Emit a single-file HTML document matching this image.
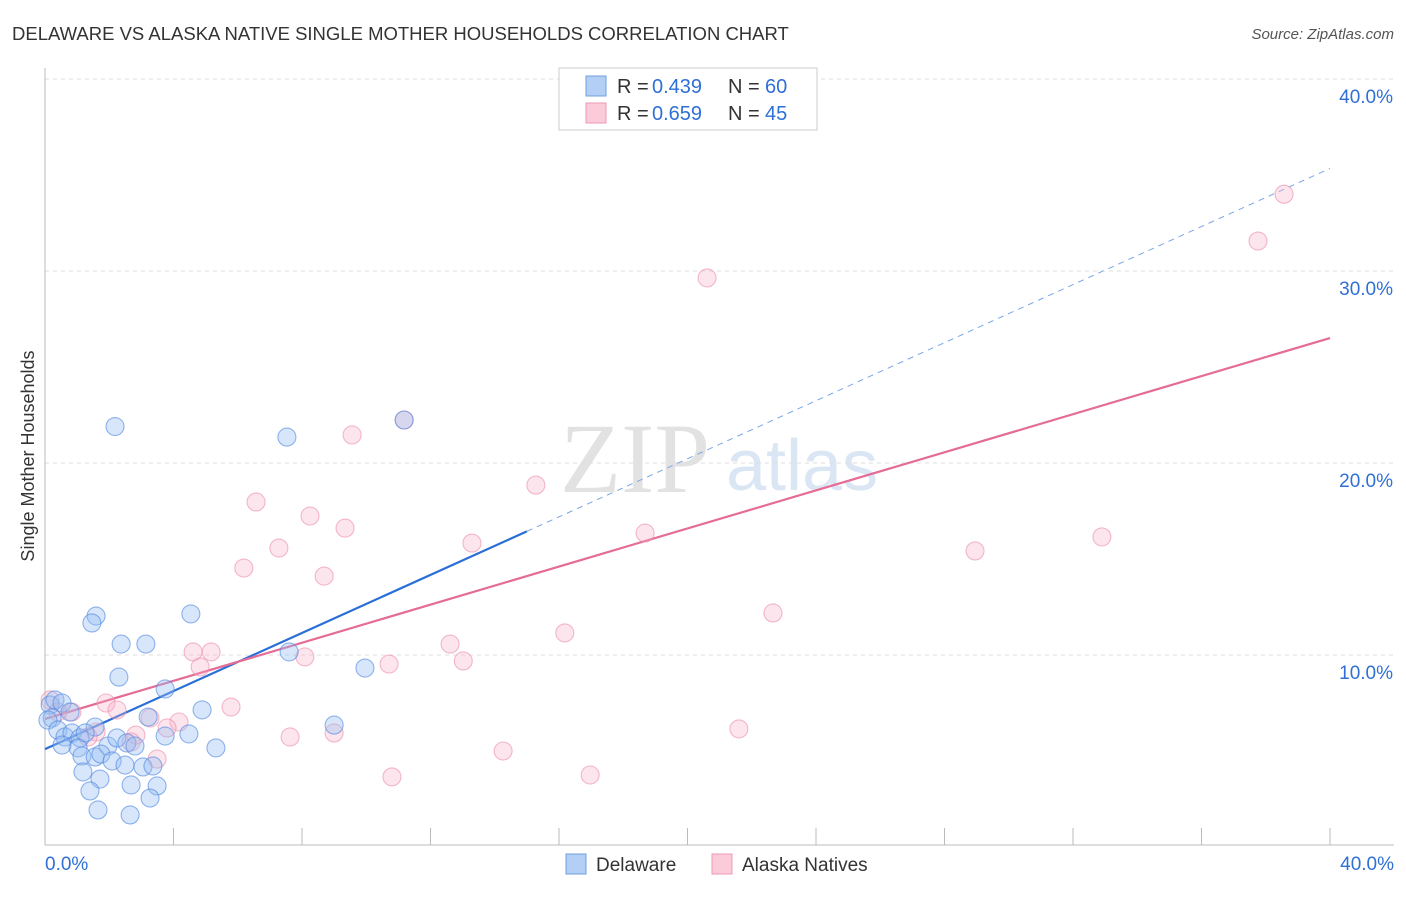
<!DOCTYPE html>
<html><head><meta charset="utf-8"><style>
body{margin:0;background:#fff;font-family:"Liberation Sans",sans-serif}
</style></head><body>
<svg id="c" width="1406" height="892" xmlns="http://www.w3.org/2000/svg">
<text x="12" y="40" font-size="18.5" fill="#333">DELAWARE VS ALASKA NATIVE SINGLE MOTHER HOUSEHOLDS CORRELATION CHART</text>
<text x="1394" y="39" font-size="15" fill="#555" font-style="italic" text-anchor="end">Source: ZipAtlas.com</text>
<text x="34" y="456" font-size="18" fill="#333" text-anchor="middle" transform="rotate(-90 34 456)">Single Mother Households</text>
<g>
<text x="635" y="492" font-size="100" fill="#e2e2e2" font-family="Liberation Serif,serif" text-anchor="middle">ZIP</text>
<text x="802" y="490" font-size="72" fill="#dbe6f5" text-anchor="middle">atlas</text>
</g>
<g id="grid"></g><g id="axes"></g><g id="lines"></g><g id="pts"></g>
<g>
<rect x="559" y="68" width="258" height="62" fill="#fff" stroke="#ccc"/>
<rect x="586" y="76" width="20" height="20" fill="#b3cff5" stroke="#6f9fe0"/>
<rect x="586" y="103" width="20" height="20" fill="#fbcbd9" stroke="#ec9ab4"/>
<text y="93" font-size="20" fill="#333"><tspan x="617">R =</tspan><tspan x="652" fill="#2f6fd6">0.439</tspan><tspan x="728">N =</tspan><tspan x="765" fill="#2f6fd6">60</tspan></text>
<text y="120" font-size="20" fill="#333"><tspan x="617">R =</tspan><tspan x="652" fill="#2f6fd6">0.659</tspan><tspan x="728">N =</tspan><tspan x="765" fill="#2f6fd6">45</tspan></text>
</g>
<g>
<rect x="566" y="854" width="20" height="20" fill="#b3cff5" stroke="#6f9fe0"/>
<text x="596" y="871" font-size="19" fill="#333">Delaware</text>
<rect x="712" y="854" width="20" height="20" fill="#fbcbd9" stroke="#ec9ab4"/>
<text x="742" y="871" font-size="19" fill="#333">Alaska Natives</text>
</g>
</svg>
<script>
const yTicks=[10,20,30,40];
const yTickLabels=["10.0%","20.0%","30.0%","40.0%"];
const xEndLabels=["0.0%","40.0%"];
const blueX=[2.18,7.53,11.18,1.59,1.46,4.54,2.37,3.14,7.6,9.96,2.3,3.74,4.89,3.21,9.0,3.74,4.48,5.32,0.16,0.31,0.53,0.22,0.09,0.78,0.40,0.62,0.84,1.09,1.56,1.25,1.96,1.03,1.15,1.56,1.74,2.24,2.55,2.8,2.09,2.49,3.05,3.36,1.18,1.71,2.68,3.49,1.4,3.27,1.65,2.65,0.53];
const blueY=[21.9,21.35,22.24,12.03,11.67,12.14,10.57,10.57,10.16,9.32,8.85,8.23,7.14,6.77,6.35,5.78,5.89,5.16,7.4,7.66,7.5,6.72,6.61,7.03,6.09,5.73,5.94,5.68,6.25,5.94,5.26,5.16,4.74,4.69,4.84,5.68,5.42,5.26,4.48,4.27,4.17,4.22,3.91,3.54,3.23,3.18,2.92,2.55,1.93,1.67,5.31];
const pinkX=[38.57,37.76,20.61,11.18,9.56,15.28,6.57,8.25,9.34,13.29,18.68,32.9,28.95,7.28,6.19,8.69,22.66,16.18,12.61,4.61,5.17,8.09,13.02,10.71,4.83,1.9,2.24,5.79,0.84,0.16,4.17,3.27,3.8,1.59,2.83,7.63,9.0,21.6,3.49,2.68,14.26,10.8,16.97,0.4,1.34];
const pinkY=[34.0,31.56,29.64,22.24,21.46,18.85,17.97,17.24,16.61,15.83,16.35,16.15,15.42,15.57,14.53,14.11,12.19,11.15,10.57,10.16,10.16,9.9,9.69,9.53,9.38,7.5,7.14,7.29,7.03,7.66,6.51,6.72,6.2,5.99,5.83,5.73,5.94,6.15,4.58,5.47,5.0,3.65,3.75,7.03,5.73];
const blueFit=[5.1,0.756];
const pinkFit=[6.67,0.496];
const X=v=>45+v*1285/40, Y=v=>847-v*19.2;
const NS="http://www.w3.org/2000/svg";
function mk(p,t,a){const e=document.createElementNS(NS,t);for(const k in a)e.setAttribute(k,a[k]);p.appendChild(e);return e;}
const g=document.getElementById('grid'),ax=document.getElementById('axes'),ln=document.getElementById('lines'),pt=document.getElementById('pts');
yTicks.forEach((t,i)=>{
 const l=mk(g,'line',{x1:45,x2:1394,y1:Y(t),y2:Y(t),stroke:'#ddd','stroke-dasharray':'4,4'});
 
 
 const tx=mk(g,'text',{x:1393,y:Y(t)+24,'font-size':19,fill:'#2f6fd6','text-anchor':'end'});tx.textContent=yTickLabels[i];
 
 
});
const ya=mk(ax,'line',{x1:45,x2:45,y1:68,y2:845,stroke:'#bbb'});


const xa=mk(ax,'line',{x1:45,x2:1394,y1:845,y2:845,stroke:'#bbb'});


for(let i=0;i<=10;i++){const t=mk(ax,'line',{x1:X(i*4),x2:X(i*4),y1:828,y2:845,stroke:'#bbb'});
 
 }
[[0,'start',45],[40,'end',1394]].forEach((d,i)=>{const t=mk(ax,'text',{x:d[2],y:870,'font-size':19,fill:'#2f6fd6','text-anchor':d[1]});t.textContent=xEndLabels[i];
 
 });
function dot(x,y,f,s,n){const c=mk(pt,'circle',{cx:X(x),cy:Y(y),r:9,fill:f,stroke:s,'stroke-width':1.1});
 
 }
pinkX.forEach((x,i)=>dot(x,pinkY[i],'rgba(248,175,198,0.32)','rgba(235,140,170,0.6)','alaska-point'));
blueX.forEach((x,i)=>dot(x,blueY[i],'rgba(150,188,242,0.38)','rgba(80,135,225,0.62)','delaware-point'));
const b1=mk(ln,'line',{x1:X(0),y1:Y(blueFit[0]),x2:X(15),y2:Y(blueFit[0]+blueFit[1]*15),stroke:'#2a6fd8','stroke-width':2.2});


const b2=mk(ln,'line',{x1:X(15),y1:Y(blueFit[0]+blueFit[1]*15),x2:X(40),y2:Y(blueFit[0]+blueFit[1]*40),stroke:'#7aa6e8','stroke-width':1,'stroke-dasharray':'6,5'});


const p1=mk(ln,'line',{x1:X(0),y1:Y(pinkFit[0]),x2:X(40),y2:Y(pinkFit[0]+pinkFit[1]*40),stroke:'#e46c95','stroke-width':2.2});


</script>
</body></html>
